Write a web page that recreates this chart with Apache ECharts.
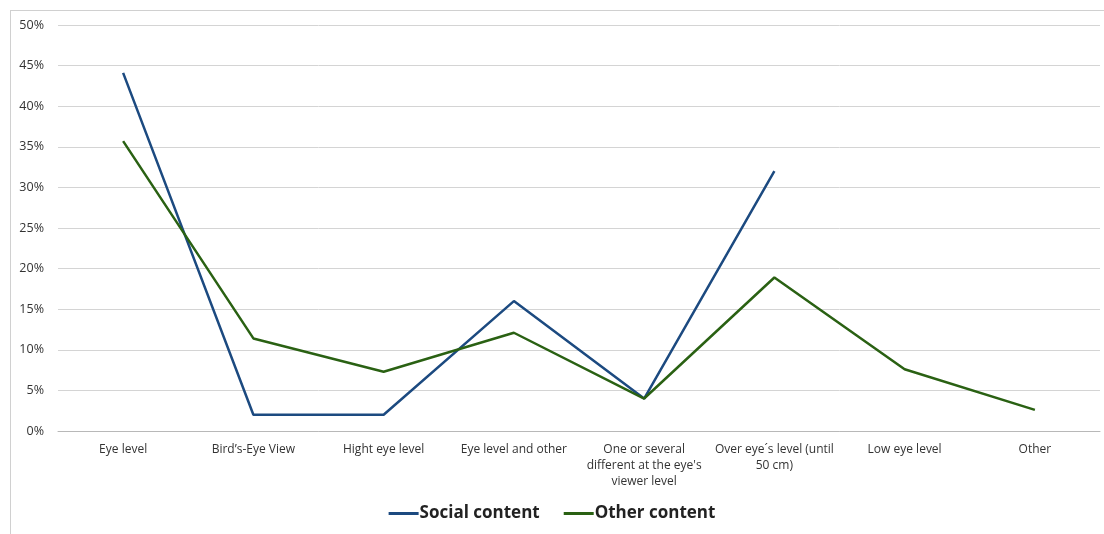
<!DOCTYPE html>
<html>
<head>
<meta charset="utf-8">
<script src="https://cdn.jsdelivr.net/npm/echarts@6/dist/echarts.min.js"></script>
<style>
    html, body { margin: 0; padding: 0; background: #fff; }
    .frame {
        position: absolute;
        left: 10px;
        top: 10px;
        width: 1200px;
        height: 600px;
        border: 1px solid #d0d0d0;
    }
    #main { position: absolute; left: 0; top: 0; width: 1104px; height: 534px; }
</style>
</head>
<body>
<div class="frame"></div>
<div id="main"></div>
<script>
    // categories and values (percent)
    var categories = ['Eye level', 'Bird\u2019s-Eye View', 'Hight eye level', 'Eye level and other',
        'One or several\ndifferent at the eye\'s\nviewer level', 'Over eye\u00b4s level (until\n50 cm)',
        'Low eye level', 'Other']
    var socialContent = [44.1, 2, 2, 16, 4, 32, null, null]
    var otherContent = [35.7, 11.4, 7.3, 12.1, 4, 18.9, 7.6, 2.6]
    var yTicks = [0, 5, 10, 15, 20, 25, 30, 35, 40, 45, 50]

    var font = 'Open Sans'
    var myChart = echarts.init(document.getElementById('main'))
    var option = {
        animation: false,
        grid: { left: 58, right: 4, top: 25, bottom: 103 },
        legend: {
            bottom: 7,
            left: 'center',
            itemWidth: 30,
            itemHeight: 3,
            itemGap: 24,
            icon: 'rect',
            textStyle: { fontFamily: font, fontSize: 17, fontWeight: 'bold', color: '#222', padding: [0, 0, 0, -4] },
            data: ['Social content', 'Other content']
        },
        xAxis: {
            type: 'category',
            boundaryGap: true,
            data: categories,
            axisLine: { lineStyle: { color: '#b8b8b8', width: 1 } },
            axisTick: { show: false },
            axisLabel: { interval: 0, fontFamily: font, fontSize: 12, color: '#333', lineHeight: 16, margin: 11 }
        },
        yAxis: {
            type: 'value',
            min: yTicks[0],
            max: yTicks[yTicks.length - 1],
            interval: 5,
            axisLine: { show: false },
            axisTick: { show: false },
            splitLine: { lineStyle: { color: '#d4d4d4', width: 1 } },
            axisLabel: { formatter: '{value}%', fontFamily: font, fontSize: 12.5, color: '#333', margin: 14 }
        },
        series: [
            {
                name: 'Social content',
                type: 'line',
                data: socialContent,
                symbol: 'none',
                lineStyle: { width: 2.5, color: '#1c4a80' },
                itemStyle: { color: '#1c4a80' }
            },
            {
                name: 'Other content',
                type: 'line',
                data: otherContent,
                symbol: 'none',
                lineStyle: { width: 2.5, color: '#2a6113' },
                itemStyle: { color: '#2a6113' }
            }
        ]
    }
    myChart.setOption(option)
</script>
</body>
</html>
